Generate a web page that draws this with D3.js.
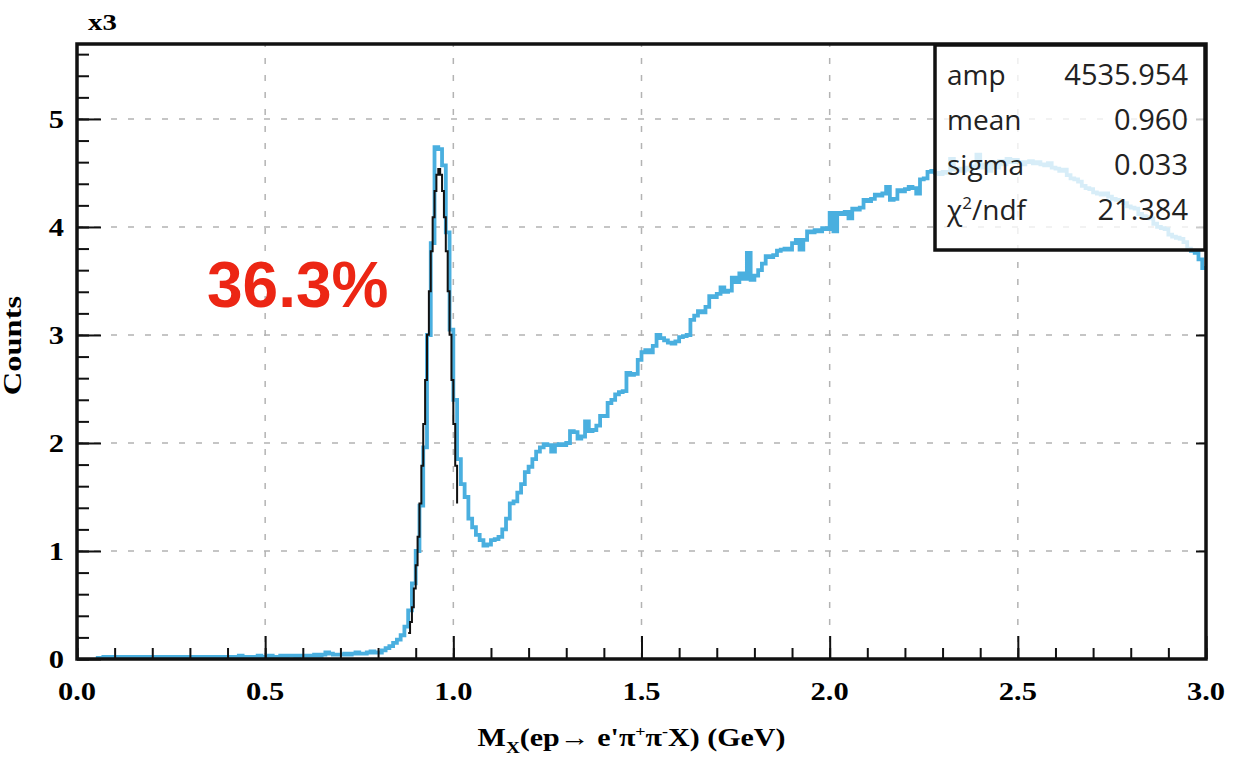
<!DOCTYPE html>
<html>
<head>
<meta charset="utf-8">
<script src="https://cdn.jsdelivr.net/npm/d3@7"></script>
<style>
  body { margin: 0; background: #fff; }
</style>
</head>
<body>
<script>
// Histogram of missing mass, bins of 0.01 GeV starting at 0.05 (values in thousands)
const binStart = 0.05, binWidth = 0.01;
const counts = [
  0.01,0.01,0.02,0.01,0.02,                                  // 0.05-0.09
  0.02,0.01,0.02,0.02,0.02,0.01,0.02,0.02,0.02,0.02,         // 0.10
  0.02,0.02,0.01,0.02,0.02,0.02,0.02,0.01,0.02,0.02,         // 0.20
  0.02,0.02,0.02,0.02,0.01,0.02,0.02,0.02,0.02,0.02,         // 0.30
  0.02,0.02,0.02,0.03,0.02,0.02,0.02,0.02,0.03,0.02,         // 0.40
  0.02,0.03,0.02,0.02,0.03,0.02,0.03,0.03,0.02,0.03,         // 0.50
  0.03,0.03,0.03,0.04,0.03,0.04,0.06,0.05,0.04,0.04,         // 0.60
  0.04,0.05,0.04,0.05,0.06,0.05,0.05,0.06,0.07,0.06,         // 0.70
  0.06,0.08,0.10,0.12,0.15,0.18,0.22,0.30,0.45,0.70,         // 0.80
  1.00,1.42,1.96,3.00,3.85,4.74,4.72,4.57,3.95,3.05,         // 0.90
  2.40,1.85,1.62,1.50,1.30,1.22,1.15,1.10,1.05,1.06,         // 1.00
  1.10,1.11,1.13,1.20,1.30,1.44,1.46,1.54,1.62,1.73,         // 1.10
  1.78,1.85,1.92,1.96,1.99,1.98,1.92,1.98,1.99,1.98,         // 1.20
  2.00,2.11,2.10,2.04,2.06,2.20,2.11,2.12,2.16,2.25,         // 1.30
  2.25,2.37,2.40,2.45,2.47,2.48,2.65,2.63,2.64,2.77,         // 1.40
  2.84,2.86,2.84,2.90,3.00,2.97,2.95,2.93,2.92,2.94,         // 1.50
  2.98,2.99,3.00,3.14,3.18,3.22,3.21,3.26,3.36,3.35,         // 1.60
  3.38,3.44,3.40,3.41,3.53,3.49,3.57,3.52,3.76,3.51,         // 1.70
  3.55,3.60,3.66,3.73,3.72,3.74,3.78,3.79,3.80,3.79,         // 1.80
  3.85,3.88,3.79,3.88,3.96,3.95,3.97,3.96,3.99,3.98,         // 1.90
  4.13,3.96,4.13,4.12,4.14,4.08,4.17,4.16,4.18,4.25,         // 2.00
  4.24,4.26,4.30,4.29,4.31,4.37,4.25,4.26,4.34,4.33,         // 2.10
  4.35,4.37,4.36,4.31,4.44,4.45,4.51,4.52,4.50,4.49,         // 2.20
  4.51,4.50,4.63,4.53,4.54,4.52,4.55,4.53,4.56,4.67,         // 2.30
  4.55,4.58,4.52,4.60,4.55,4.61,4.58,4.63,4.60,4.62,         // 2.40
  4.60,4.58,4.60,4.61,4.59,4.60,4.58,4.57,4.59,4.55,         // 2.50
  4.54,4.52,4.53,4.48,4.45,4.44,4.42,4.38,4.36,4.35,         // 2.60
  4.32,4.31,4.30,4.31,4.28,4.26,4.25,4.24,4.22,4.19,         // 2.70
  4.18,4.17,4.12,4.10,4.09,4.08,4.03,4.00,3.99,3.98,         // 2.80
  3.93,3.91,3.90,3.89,3.86,3.80,3.78,3.76,3.70,3.62          // 2.90
];

// Gaussian fit curve, sampled every 0.005 GeV from 0.880 to 1.010
const fitStart = 0.880, fitStep = 0.005;
const fitValues = [
  0.240,0.343,0.478,0.652,0.869,1.131,1.439,1.790,2.176,2.584,
  3.001,3.404,3.775,4.090,4.332,4.484,4.536,4.484,4.332,4.090,
  3.775,3.404,3.001,2.584,2.176,1.790,1.439
];

const statLabels = ["amp", "mean", "sigma", "χ2/ndf"];
const statValues = ["4535.954", "0.960", "0.033", "21.384"];

const xTicks = [0, 0.5, 1.0, 1.5, 2.0, 2.5, 3.0];
const yTicks = [0, 1, 2, 3, 4, 5];
const xDomain = [0, 3], yDomain = [0, 5.694];
const efficiencyText = "36.3%";

const width = 1256, height = 764;
const margin = { top: 44, right: 50, bottom: 105, left: 77 };
const blue = "#4aafdf";
const serif = "'Liberation Serif', 'DejaVu Serif', serif";

const svg = d3.select("body").append("svg")
  .attr("width", width)
  .attr("height", height);

const x = d3.scaleLinear().domain(xDomain).range([margin.left, width - margin.right]);
const y = d3.scaleLinear().domain(yDomain).range([height - margin.bottom, margin.top]);

// dashed grid
svg.append("g")
  .selectAll("line.vg")
  .data(xTicks.filter(d => d > 0 && d < 3))
  .enter().append("line")
  .attr("x1", d => x(d)).attr("x2", d => x(d))
  .attr("y1", y.range()[0]).attr("y2", y.range()[1])
  .attr("stroke", "#b3b3b3").attr("stroke-width", 1.5)
  .attr("stroke-dasharray", "6,11");
svg.append("g")
  .selectAll("line.hg")
  .data(yTicks.filter(d => d > 0))
  .enter().append("line")
  .attr("x1", x.range()[0]).attr("x2", x.range()[1])
  .attr("y1", d => y(d)).attr("y2", d => y(d))
  .attr("stroke", "#b3b3b3").attr("stroke-width", 1.5)
  .attr("stroke-dasharray", "6,11");

// histogram as steps
const histPts = counts.map((c, i) => [binStart + i * binWidth, c]);
histPts.push([binStart + counts.length * binWidth, counts[counts.length - 1]]);
const stepLine = d3.line()
  .x(d => x(d[0]))
  .y(d => y(d[1]))
  .curve(d3.curveStepAfter);
svg.append("path")
  .datum(histPts)
  .attr("d", stepLine)
  .attr("fill", "none")
  .attr("stroke", blue)
  .attr("stroke-width", 3.8)
  .attr("stroke-linejoin", "miter");

// fit curve
const fitPts = fitValues.map((v, i) => [fitStart + i * fitStep, v]);
svg.append("path")
  .datum(fitPts)
  .attr("d", d3.line().x(d => x(d[0])).y(d => y(d[1])).curve(d3.curveStepAfter))
  .attr("fill", "none")
  .attr("stroke", "#111")
  .attr("stroke-width", 2);

// axes with inward ticks
const xAxisMinor = d3.axisTop(x).tickValues(d3.range(0, 3.001, 0.1)).tickSize(11).tickFormat("");
const xAxisMajor = d3.axisTop(x).tickValues(xTicks).tickSize(23).tickFormat("");
const yAxisMinor = d3.axisRight(y).tickValues(d3.range(0, 5.61, 0.2)).tickSize(12).tickFormat("");
const yAxisMajor = d3.axisRight(y).tickValues(yTicks).tickSize(24).tickFormat("");
const yAxisRight = d3.axisLeft(y).tickValues(yTicks.filter(d => d > 0)).tickSize(10).tickFormat("");

[xAxisMinor, xAxisMajor].forEach(ax => {
  svg.append("g").attr("transform", `translate(0,${y.range()[0]})`).call(ax)
    .call(g => g.select(".domain").remove())
    .selectAll("line").attr("stroke", "#111").attr("stroke-width", 2);
});
[yAxisMinor, yAxisMajor].forEach(ax => {
  svg.append("g").attr("transform", `translate(${x.range()[0]},0)`).call(ax)
    .call(g => g.select(".domain").remove())
    .selectAll("line").attr("stroke", "#111").attr("stroke-width", 2);
});
svg.append("g").attr("transform", `translate(${x.range()[1]},0)`).call(yAxisRight)
  .call(g => g.select(".domain").remove())
  .selectAll("line").attr("stroke", "#111").attr("stroke-width", 2);

// frame
svg.append("rect")
  .attr("x", x.range()[0]).attr("y", y.range()[1])
  .attr("width", x.range()[1] - x.range()[0])
  .attr("height", y.range()[0] - y.range()[1])
  .attr("fill", "none").attr("stroke", "#111").attr("stroke-width", 3.5);

// tick labels (the original font is set wide, so stretch horizontally)
svg.append("g").selectAll("text")
  .data(xTicks).enter().append("text")
  .attr("transform", d => `translate(${x(d)},${y.range()[0] + 41}) scale(1.22,1)`)
  .attr("text-anchor", "middle")
  .style("font-family", serif).style("font-weight", "bold").style("font-size", "25px")
  .text(d => d3.format(".1f")(d));
svg.append("g").selectAll("text")
  .data(yTicks).enter().append("text")
  .attr("transform", d => `translate(${x.range()[0] - 13},${y(d) + 9}) scale(1.22,1)`)
  .attr("text-anchor", "end")
  .style("font-family", serif).style("font-weight", "bold").style("font-size", "25px")
  .text(d => d);

// exponent label
svg.append("text")
  .attr("transform", "translate(88,30) scale(1.2,1)")
  .style("font-family", serif).style("font-weight", "bold").style("font-size", "24px")
  .text("x3");

// axis titles
svg.append("text")
  .attr("transform", `translate(21,${(y.range()[0] + y.range()[1]) / 2 - 6}) rotate(-90) scale(1.3,1)`)
  .attr("text-anchor", "middle")
  .style("font-family", serif).style("font-weight", "bold").style("font-size", "25px")
  .text("Counts");

const xt = svg.append("text")
  .attr("transform", `translate(${(x.range()[0] + x.range()[1]) / 2 - 10},746) scale(1.2,1)`)
  .attr("text-anchor", "middle")
  .style("font-family", serif).style("font-weight", "bold").style("font-size", "25px");
xt.append("tspan").text("M");
xt.append("tspan").attr("dy", 7).style("font-size", "16px").text("X");
xt.append("tspan").attr("dy", -7).text("(ep→ e'π");
xt.append("tspan").attr("dy", -10).style("font-size", "15px").text("+");
xt.append("tspan").attr("dy", 10).text("π");
xt.append("tspan").attr("dy", -10).style("font-size", "15px").text("-");
xt.append("tspan").attr("dy", 10).text("X) (GeV)");

// efficiency annotation
svg.append("text")
  .attr("x", 207).attr("y", 307)
  .style("font-family", "'Liberation Sans', Arial, sans-serif")
  .style("font-weight", "bold").style("font-size", "64px")
  .attr("fill", "#ec2614")
  .text(efficiencyText);

// stats box
const box = { x0: 935, y0: 45, x1: 1205, y1: 250 };
svg.append("rect")
  .attr("x", box.x0).attr("y", box.y0)
  .attr("width", box.x1 - box.x0).attr("height", box.y1 - box.y0)
  .attr("fill", "#fff").attr("fill-opacity", 0.78)
  .attr("stroke", "#111").attr("stroke-width", 3.5);

const sans = "'Open Sans', 'Noto Sans', sans-serif";
const rowY = d3.scalePoint().domain(statLabels).range([85, 220]);
statLabels.forEach((lab, i) => {
  const t = svg.append("text")
    .attr("x", box.x0 + 12).attr("y", rowY(lab))
    .attr("fill", "#222")
    .style("font-family", sans).style("font-size", "28px");
  if (lab.startsWith("χ2")) {
    t.append("tspan").text("χ");
    t.append("tspan").attr("dy", -11).style("font-size", "17px").text("2");
    t.append("tspan").attr("dy", 11).text("/ndf");
  } else {
    t.text(lab);
  }
  svg.append("text")
    .attr("x", box.x1 - 17).attr("y", rowY(lab))
    .attr("text-anchor", "end")
    .attr("fill", "#222")
    .style("font-family", sans).style("font-size", "29px")
    .text(statValues[i]);
});
</script>
</body>
</html>
